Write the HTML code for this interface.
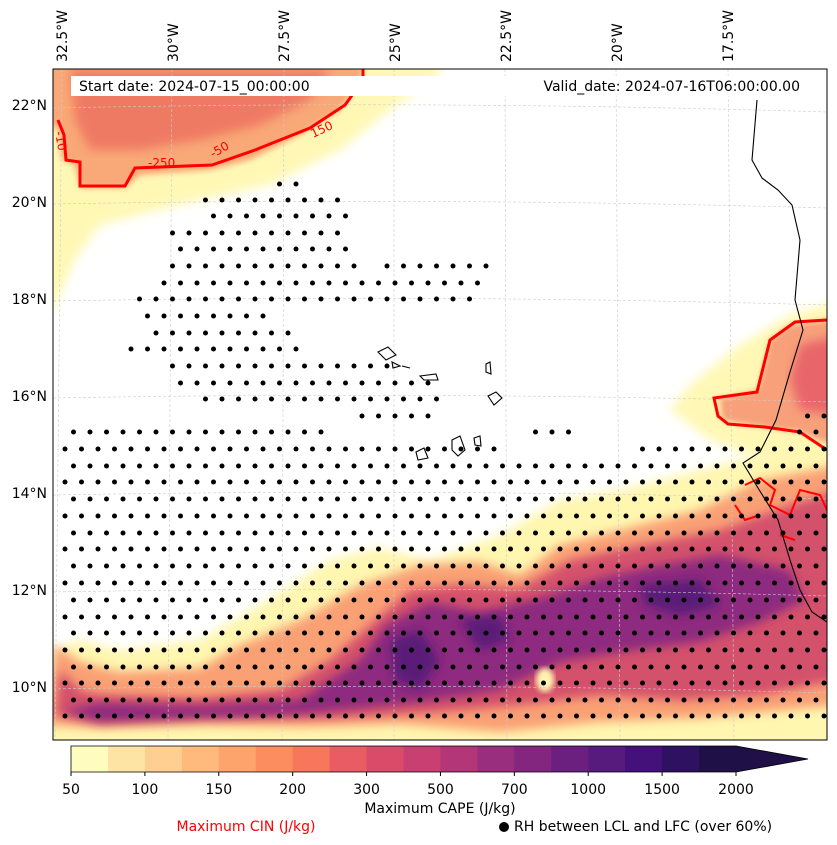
<!DOCTYPE html>
<html><head><meta charset="utf-8">
<style>
html,body{margin:0;padding:0;background:#fff;}
svg{display:block;font-family:"DejaVu Sans","Liberation Sans",sans-serif;}
</style></head>
<body>
<svg id="fig" width="837" height="845" viewBox="0 0 837 845" xmlns="http://www.w3.org/2000/svg">
<defs>
<filter id="bl" x="-10%" y="-10%" width="120%" height="120%"><feGaussianBlur stdDeviation="5"/></filter>
<filter id="bl2" x="-10%" y="-10%" width="120%" height="120%"><feGaussianBlur stdDeviation="3"/></filter>
<clipPath id="mapclip"><rect x="53" y="69" width="774" height="671"/></clipPath>
</defs>
<rect width="837" height="845" fill="#fff"/>
<g clip-path="url(#mapclip)">
 <g id="fields">
  <path filter="url(#bl)" fill="#fff8b5" d="M40,60 L440,60 L440,75 L390,110 L340,150 L270,185 L200,200 L140,215 L100,225 L75,260 L53,310 L40,310 Z"/>
  <path filter="url(#bl2)" fill="#f9a877" d="M45,60 L362,60 L362,80 L340,110 L300,135 L250,160 L210,170 L140,175 L125,188 L80,188 L75,165 L62,160 L58,130 L45,120 Z"/>
  <path filter="url(#bl)" fill="#ef7a63" d="M70,70 L330,70 L310,100 L260,125 L200,140 L140,150 L90,150 L75,120 Z"/>
  <path filter="url(#bl)" fill="#fff8b5" d="M840,300 L790,315 L740,345 L690,385 L670,410 L710,440 L760,460 L840,470 Z"/>
  <path filter="url(#bl2)" fill="#f7a07a" d="M840,318 L790,325 L770,340 L758,390 L720,398 L722,420 L765,428 L800,432 L840,450 Z"/>
  <path filter="url(#bl)" fill="#e8666a" d="M840,335 L800,345 L790,380 L800,410 L840,415 Z"/>
  <path filter="url(#bl)" fill="#fff6b0" d="M40,760 L40,655 L80,640 L120,650 L200,640 L260,605 L330,560 L380,548 L430,560 L500,535 L560,500 L620,490 L700,470 L760,455 L840,445 L840,760 Z"/>
  <path filter="url(#bl)" fill="#f9a074" d="M45,725 L55,645 L80,662 L120,672 L200,668 L240,645 L300,620 L360,585 L420,565 L480,562 L520,575 L560,545 L620,530 L700,510 L760,480 L840,465 L840,705 L700,718 L600,722 L500,732 L400,724 L300,727 L200,725 L100,728 Z"/>
  <path filter="url(#bl)" fill="#d4516c" d="M55,715 L60,670 L80,690 L100,695 L200,698 L280,690 L330,660 L370,625 L410,590 L460,585 L520,588 L570,560 L640,545 L720,530 L790,505 L840,490 L840,680 L760,695 L680,700 L600,695 L520,705 L440,712 L330,718 L200,718 L100,722 Z"/>
  <path filter="url(#bl)" fill="#8e2c7f" d="M62,712 L100,703 L200,706 L300,700 L360,660 L385,625 L430,602 L480,612 L540,598 L600,578 L660,565 L720,555 L790,570 L805,600 L760,622 L700,642 L620,652 L560,662 L500,690 L420,702 L300,714 L100,722 Z"/>
  <path filter="url(#bl)" fill="#5a1a78" d="M390,640 L420,630 L440,660 L420,690 L395,680 Z M460,620 L500,615 L510,640 L480,650 Z M640,585 L700,580 L720,605 L680,615 L645,605 Z"/>
  <ellipse cx="545" cy="680" rx="9" ry="12" fill="#fff6b0" filter="url(#bl2)"/>
 </g>
 <g stroke="#cccccc" stroke-width="0.6" stroke-dasharray="3,2" fill="none">
  <path d="M53,108 Q440,100 827,112"/><path d="M53,204 Q440,197 827,208"/><path d="M53,301 Q440,294 827,305"/>
  <path d="M53,398 Q440,391 827,402"/><path d="M53,495 Q440,488 827,499"/><path d="M53,592 Q440,585 827,596"/><path d="M53,689 Q440,682 827,693"/>
  <path d="M62,69 L55,740"/><path d="M172,69 L168,740"/><path d="M284,69 L282,740"/><path d="M394,69 L394,740"/>
  <path d="M505,69 L507,740"/><path d="M616,69 L620,740"/><path d="M728,69 L734,740"/>
 </g>
 <g fill="none" stroke="#ff0000" stroke-width="3">
  <path d="M363,69 L363,80 L345,105 L310,128 L255,150 L212,165 L135,168 L125,186 L80,186 L80,162 L66,160 L64,135 L58,120"/>
  <path d="M827,320 L795,322 L770,340 L757,392 L714,398 L718,416 L728,424 L765,427 L800,432 L827,450"/>
  <path stroke-width="2" d="M745,485 L760,478 L775,490 L770,505 L790,515 L800,490 L820,495 L827,510 M735,505 L745,520 L760,515 M780,535 L795,540"/>
 </g>
 <g fill="#ff0000" font-size="12">
  <text x="148" y="167">-250</text>
  <text x="213" y="158" transform="rotate(-30 213 158)">-50</text>
  <text x="313" y="138" transform="rotate(-25 313 138)">150</text>
  <text x="55" y="132" transform="rotate(80 55 132)">-10</text>
 </g>
 <g fill="none" stroke="#000" stroke-width="1.1">
  <path d="M757,100 L752,160 L762,178 L778,190 L792,205 L800,240 L795,300 L803,330 L790,372 L776,420 L760,452 L743,463 L758,488 L778,520 L790,560 L800,590 L812,612 L827,622"/>
  <path d="M378,352 L388,347 L396,355 L386,360 Z M392,362 L400,366 L393,368 Z M420,376 L436,374 L438,380 L424,380 Z M486,364 L490,362 L491,374 L486,372 Z M488,396 L496,392 L502,398 L494,405 Z M474,438 L480,436 L481,446 L475,445 Z M416,452 L424,448 L428,458 L418,460 Z M452,440 L460,436 L465,450 L458,456 L452,450 Z M402,366 L410,368"/>
 </g>
 <g id="dots" fill="#000"></g>
</g>
<rect x="53" y="69" width="774" height="671" fill="none" stroke="#000" stroke-width="1"/>
<rect x="71" y="76" width="739" height="20" fill="#fff"/>
<text x="79" y="91" font-size="14">Start date: 2024-07-15_00:00:00</text>
<text x="800" y="91" font-size="14" text-anchor="end">Valid_date: 2024-07-16T06:00:00.00</text>
<g id="latlabels" font-size="14" text-anchor="end"></g>
<g id="lonlabels" font-size="14"></g>
<g id="cbar"></g>
<text x="440" y="813" font-size="14" text-anchor="middle">Maximum CAPE (J/kg)</text>
<text x="246" y="831" font-size="14" text-anchor="middle" fill="#ff0000">Maximum CIN (J/kg)</text>
<circle cx="504" cy="827" r="5" fill="#000"/>
<text x="514" y="831" font-size="14">RH between LCL and LFC (over 60%)</text>
</svg>
<script>
const NS="http://www.w3.org/2000/svg";
const cbLabels=["50","100","150","200","300","500","700","1000","1500","2000"];
const cbColors=["#fefdbf","#fde4a5","#fecf91","#feb97c","#fca46c","#fb8d5e","#f7765c","#ea5c63","#da4b6a","#c93f72","#b33778","#9a2e7e","#83267f","#6b1f7f","#571b7e","#44107a","#2f1162","#1f1147"];
const latLabels=["22°N","20°N","18°N","16°N","14°N","12°N","10°N"];
const latValues=[22,20,18,16,14,12,10];
const lonLabels=["32.5°W","30°W","27.5°W","25°W","22.5°W","20°W","17.5°W"];
const lonValues=[-32.5,-30,-27.5,-25,-22.5,-20,-17.5];
const dotRowY=[184,200,216,233,249,266,283,299,316,333,349,366,383,399,416,432,449,466,482,499,516,533,549,566,583,600,617,633,650,667,683,700,716];
const dotRowSpans=[[[270,310]],[[190,350]],[[205,350]],[[160,350]],[[175,350]],[[160,360],[380,500]],[[150,480]],[[135,480]],[[140,270]],[[140,290]],[[120,300]],[[160,400]],[[175,440]],[[195,440]],[[350,440],[800,827]],[[60,330],[530,580],[795,827]],[[57,500],[640,827]],[[65,827]],[[57,827]],[[65,827]],[[57,827]],[[65,827]],[[57,827]],[[65,827]],[[57,827]],[[65,827]],[[57,827]],[[65,827]],[[57,827]],[[65,827]],[[57,827]],[[65,827]],[[57,827]]];
const latY=v=>105+(22-v)*48.5;
const lonX=v=>62+(v+32.5)*44.4;
const lg=document.getElementById('latlabels');
latValues.forEach((v,i)=>{const t=document.createElementNS(NS,'text');t.setAttribute('x',47);t.setAttribute('y',latY(v)+5);t.textContent=latLabels[i];


lg.appendChild(t);});
const og=document.getElementById('lonlabels');
lonValues.forEach((v,i)=>{const x=lonX(v)+5,y=62;const t=document.createElementNS(NS,'text');t.setAttribute('x',x);t.setAttribute('y',y);t.setAttribute('transform','rotate(-90 '+x+' '+y+')');t.textContent=lonLabels[i];


og.appendChild(t);});
const dg=document.getElementById('dots');
const step=16.5;
dotRowY.forEach((y,i)=>{dotRowSpans[i].forEach(s=>{const off=(i%2)?0:8;for(let x=57+off;x<=827;x+=step){if(x>=s[0]&&x<=s[1]){const c=document.createElementNS(NS,'circle');c.setAttribute('cx',x.toFixed(1));c.setAttribute('cy',y);c.setAttribute('r',2.5);


dg.appendChild(c);}}});});
const cb=document.getElementById('cbar');
const x0=71,x1=736,y0=746,h=26,w=(x1-x0)/cbColors.length;
cbColors.forEach((c,i)=>{const r=document.createElementNS(NS,'rect');r.setAttribute('x',x0+i*w);r.setAttribute('y',y0);r.setAttribute('width',w+0.5);r.setAttribute('height',h);r.setAttribute('fill',c);


cb.appendChild(r);});
const tri=document.createElementNS(NS,'path');tri.setAttribute('d',`M${x1},${y0} L808,${y0+h/2} L${x1},${y0+h} Z`);tri.setAttribute('fill',cbColors[cbColors.length-1]);


cb.appendChild(tri);
const ol=document.createElementNS(NS,'path');ol.setAttribute('d',`M${x0},${y0} L${x1},${y0} L808,${y0+h/2} L${x1},${y0+h} L${x0},${y0+h} Z`);ol.setAttribute('fill','none');ol.setAttribute('stroke','#000');ol.setAttribute('stroke-width','0.8');


cb.appendChild(ol);
cbLabels.forEach((l,i)=>{const x=x0+i*2*w;const tk=document.createElementNS(NS,'line');tk.setAttribute('x1',x);tk.setAttribute('x2',x);tk.setAttribute('y1',y0+h);tk.setAttribute('y2',y0+h+4);tk.setAttribute('stroke','#000');


cb.appendChild(tk);
const t=document.createElementNS(NS,'text');t.setAttribute('x',x);t.setAttribute('y',794);t.setAttribute('font-size','14');t.setAttribute('text-anchor','middle');t.textContent=l;


cb.appendChild(t);});
</script>
</body></html>
